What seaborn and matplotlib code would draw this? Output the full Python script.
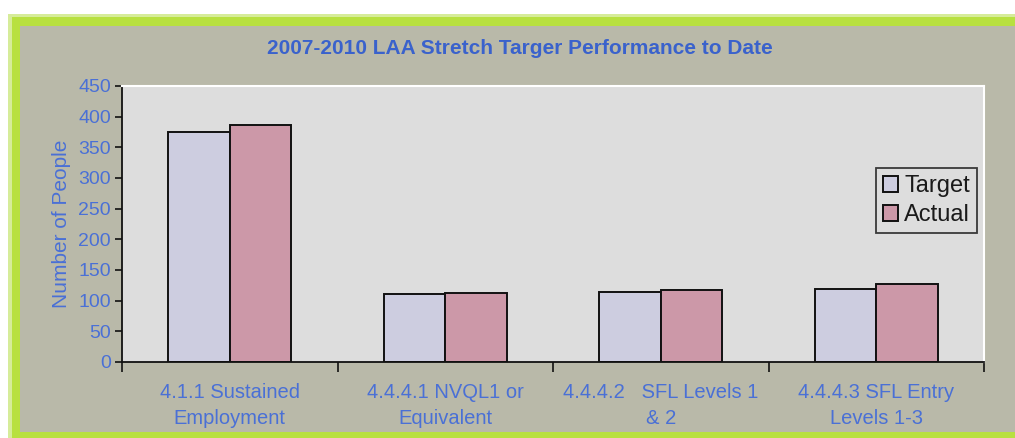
import matplotlib
matplotlib.use("Agg")
import matplotlib.pyplot as plt
from matplotlib.patches import Rectangle
import seaborn as sns
import pandas as pd
import numpy as np

categories = ["4.1.1 Sustained\nEmployment", "4.4.4.1 NVQL1 or\nEquivalent",
              "4.4.4.2   SFL Levels 1\n& 2", "4.4.4.3 SFL Entry\nLevels 1-3"]
target = [375, 111, 114, 119]
actual = [386, 113, 117, 127]
series = ["Target", "Actual"]
title = "2007-2010 LAA Stretch Targer Performance to Date"
ylabel = "Number of People"
yticks = [0, 50, 100, 150, 200, 250, 300, 350, 400, 450]

df = pd.DataFrame({
    "category": categories * 2,
    "series": [series[0]] * 4 + [series[1]] * 4,
    "value": target + actual,
})

sns.set_theme(style="white")
plt.rcParams['font.family'] = ['Liberation Sans', 'DejaVu Sans']

W, H = 1015, 438
fig = plt.figure(figsize=(W / 100, H / 100), dpi=100, facecolor="white")

# outer frame
def px_rect(x0, y0, x1, y1, color, z):
    fig.patches.append(Rectangle((x0 / W, 1 - y1 / H), (x1 - x0) / W, (y1 - y0) / H,
                                 transform=fig.transFigure, facecolor=color,
                                 edgecolor="none", zorder=z))

px_rect(8, 14, W + 5, H + 5, "#d6ec9a", -3)
px_rect(12, 17, W + 5, H + 5, "#b8e040", -2.5)
px_rect(20, 26, W + 5, 432, "#b9b9a9", -2)

text_blue = "#4a70d6"
ax = fig.add_axes([122 / W, 1 - 362 / H, (984 - 122) / W, (362 - 86) / H])
ax.set_facecolor("#dddddd")

sns.barplot(data=df, x="category", y="value", hue="series", ax=ax,
            palette={"Target": "#cdcde0", "Actual": "#cc98a8"},
            width=0.57, edgecolor="#111111", linewidth=1.4, saturation=1)

ax.set_ylim(0, 450)
ax.set_xlim(-0.5, 3.5)
ax.set_yticks(yticks)
ax.set_yticklabels([str(v) for v in yticks], color=text_blue, fontsize=14)
ax.tick_params(axis="y", length=5, width=1.2, color="#111111", pad=3, left=True)
ax.set_xticks(range(4))
ax.set_xticklabels(categories, color=text_blue, fontsize=14.5, linespacing=1.5)
ax.tick_params(axis="x", which="major", length=0, pad=15)
ax.set_xticks(np.arange(-0.5, 4, 1), minor=True)
ax.tick_params(axis="x", which="minor", length=7, width=1.2, color="#111111", bottom=True)

ax.set_xlabel("")
ax.set_ylabel(ylabel, color=text_blue, fontsize=15, labelpad=5)

for s in ["top", "right"]:
    ax.spines[s].set_color("white")
    ax.spines[s].set_linewidth(1.5)
for s in ["left", "bottom"]:
    ax.spines[s].set_color("#111111")
    ax.spines[s].set_linewidth(1.3)

fig.text(520 / W, 1 - 48 / H, title, ha="center", va="center",
         color="#3a62cc", fontsize=15, fontweight="bold")

leg = ax.legend(loc="upper left", bbox_to_anchor=((876 - 122) / (984 - 122), (362 - 168) / 276),
                frameon=True, fontsize=17, handlelength=0.65, handleheight=0.65,
                handletextpad=0.25, borderpad=0.3, labelspacing=0.3,
                fancybox=False, edgecolor="#111111", facecolor="#dddddd",
                borderaxespad=0)
leg.get_frame().set_linewidth(1.3)
for t in leg.get_texts():
    t.set_color("#1a1a1a")

fig.savefig("out.png", dpi=100, facecolor=fig.get_facecolor())
